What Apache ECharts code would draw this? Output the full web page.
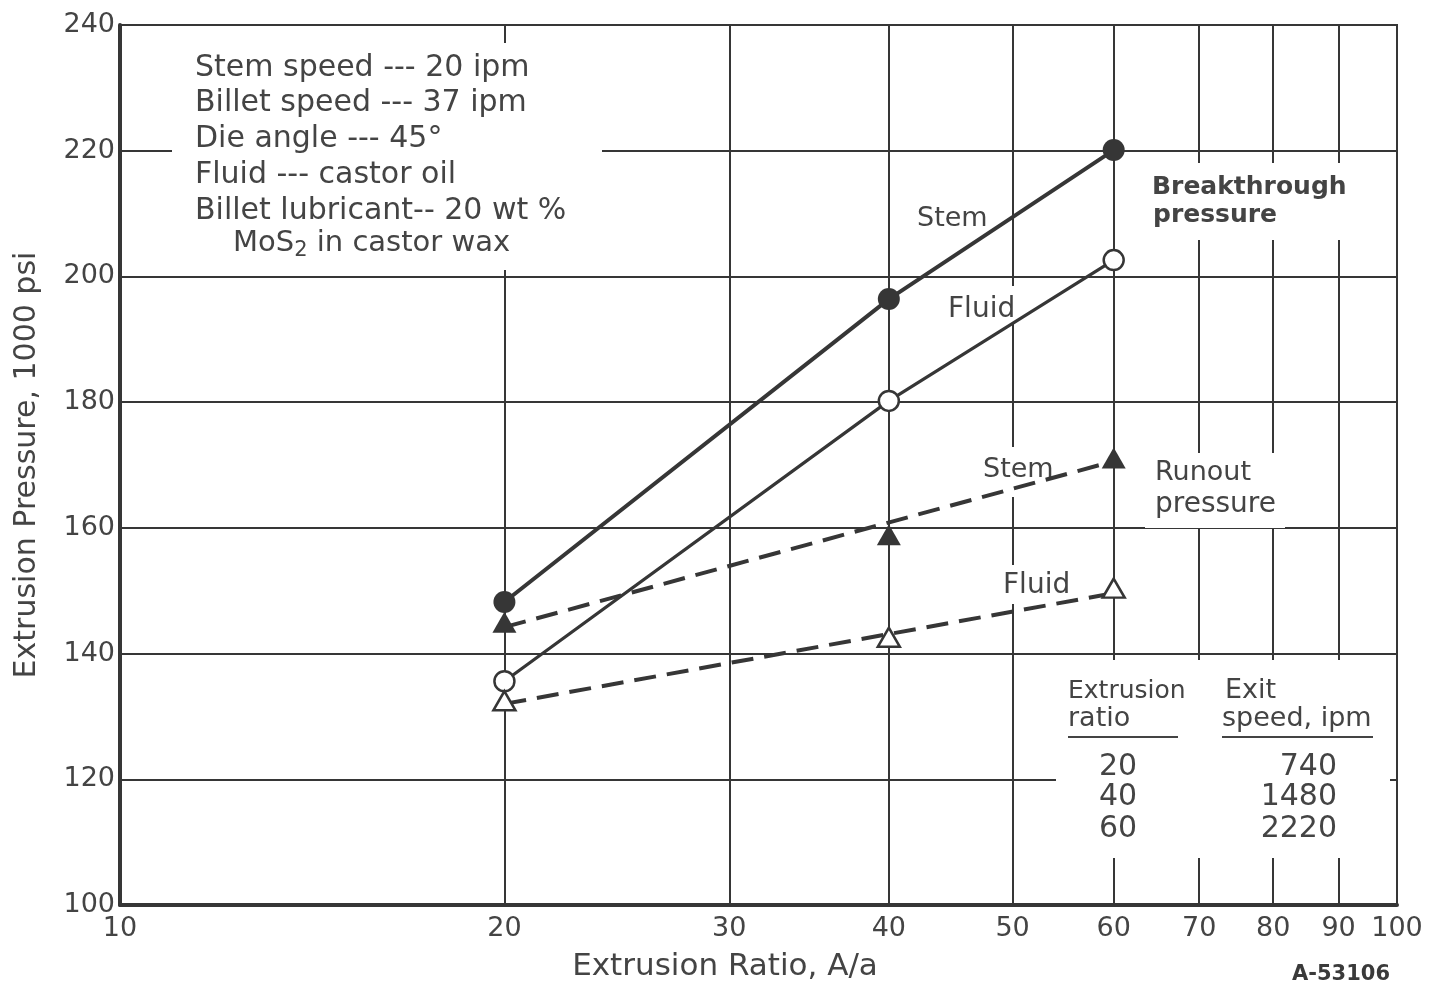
<!DOCTYPE html>
<html>
<head>
<meta charset="utf-8">
<title>Extrusion Pressure vs Extrusion Ratio</title>
<script src="https://cdn.jsdelivr.net/npm/echarts@6/dist/echarts.min.js"></script>
<style>
  html, body { margin: 0; padding: 0; background: #fff; }
  #chart { width: 1429px; height: 988px; }
</style>
</head>
<body>
<div id="chart"></div>
<script>
// Extrusion ratios where pressures were measured
const ratios = [20, 40, 60];
// Breakthrough pressure, 1000 psi
const breakthroughStem = [148.2, 196.4, 220.1];
const breakthroughFluid = [135.6, 180.2, 202.6];
// Runout pressure, 1000 psi
const runoutStem = [145.0, 158.9, 171.1];
const runoutFluid = [132.5, 142.6, 150.4];
// Straight runout trend lines (end points)
const fitRatios = [20, 60];
const runoutStemFit = [144.2, 170.6];
const runoutFluidFit = [132.0, 149.6];
// Axis ticks
const xTickValues = [10, 20, 30, 40, 50, 60, 70, 80, 90, 100];
const yMin = 100, yMax = 240, yStep = 20;
// Exit speed table
const tableRatios = ['20', '40', '60'];
const exitSpeeds = ['740', '1480', '2220'];
// Test conditions
const conditions = [
  'Stem speed --- 20 ipm',
  'Billet speed --- 37 ipm',
  'Die angle --- 45°',
  'Fluid --- castor oil',
  'Billet lubricant-- 20 wt %'
];

const INK = '#363636';
const TEXT = '#444';
const FONT = '"DejaVu Sans", sans-serif';
const lg = v => Math.log10(v);
const pts = (xs, ys) => xs.map((x, i) => [lg(x), ys[i]]);

const chart = echarts.init(document.getElementById('chart'), null, { renderer: 'canvas' });

function txt(text, x, y, size, extra) {
  return {
    type: 'text', z: 5,
    style: Object.assign({
      text: text, x: x, y: y, fill: TEXT,
      fontSize: size, fontFamily: FONT,
      textAlign: 'left', textVerticalAlign: 'middle'
    }, extra || {})
  };
}
function blank(x, y, w, h) {
  return { type: 'rect', z: 4, shape: { x: x, y: y, width: w, height: h }, style: { fill: '#fff' } };
}
function rule(x1, y1, x2, y2) {
  return { type: 'line', z: 5, shape: { x1: x1, y1: y1, x2: x2, y2: y2 }, style: { stroke: TEXT, lineWidth: 2 } };
}

const graphics = [
  // conditions block
  blank(172, 43, 430, 227),
  ...conditions.map((c, i) => txt(c, 195, [68, 103, 139, 175, 211][i], 30)),
  {
    type: 'text', z: 5,
    style: {
      text: 'MoS{s|2} in castor wax', x: 233, y: 243, fill: TEXT,
      fontSize: 29, fontFamily: FONT, textVerticalAlign: 'middle',
      rich: { s: { fontSize: 21, fontFamily: FONT, fill: TEXT, padding: [15, 0, 0, 0] } }
    }
  },
  // curve group labels
  blank(1143, 163, 205, 77),
  txt('Breakthrough', 1152, 187, 25, { fontWeight: 'bold' }),
  txt('pressure', 1153, 215, 25, { fontWeight: 'bold' }),
  blank(1145, 453, 140, 75),
  txt('Runout', 1155, 473, 27),
  txt('pressure', 1155, 505, 28),
  // curve labels
  txt('Stem', 917, 219, 27),
  blank(944, 286, 74, 38),
  txt('Fluid', 948, 310, 28),
  blank(978, 447, 80, 50),
  txt('Stem', 983, 470, 27),
  blank(998, 565, 74, 39),
  txt('Fluid', 1003, 586, 28),
  // exit speed table
  blank(1056, 660, 334, 198),
  txt('Extrusion', 1068, 691, 25),
  txt('ratio', 1068, 719, 27),
  rule(1068, 737, 1178, 737),
  txt('Exit', 1225, 691, 27),
  txt('speed, ipm', 1222, 719, 27),
  rule(1222, 737, 1373, 737),
  ...tableRatios.map((r, i) => txt(r, 1118, [767, 797, 829][i], 30, { textAlign: 'center' })),
  ...exitSpeeds.map((s, i) => txt(s, 1337, [767, 797, 829][i], 30, { textAlign: 'right' })),
  // drawing number
  txt('A-53106', 1390, 975, 21, { textAlign: 'right', fontWeight: 'bold', fill: '#3a3a3a' })
];

const option = {
  backgroundColor: '#fff',
  animation: false,
  grid: {
    left: 120, right: 32, top: 25, bottom: 83,
    show: true, borderColor: INK, borderWidth: 2, backgroundColor: 'transparent'
  },
  xAxis: {
    type: 'value', min: lg(10), max: lg(100),
    name: 'Extrusion Ratio, A/a', nameLocation: 'middle', nameGap: 46,
    nameTextStyle: { fontSize: 31, fontFamily: FONT, color: TEXT, padding: [0, 67, 0, 0] },
    axisLine: { show: true, lineStyle: { color: INK, width: 4 } },
    axisTick: { show: false, customValues: xTickValues.map(lg) },
    axisLabel: {
      customValues: xTickValues.map(lg), margin: 10,
      fontSize: 27, fontFamily: FONT, color: TEXT,
      formatter: v => String(Math.round(Math.pow(10, v)))
    },
    splitLine: { show: true, lineStyle: { color: INK, width: 2 } }
  },
  yAxis: {
    type: 'value', min: yMin, max: yMax, interval: yStep,
    name: 'Extrusion Pressure, 1000 psi', nameLocation: 'middle', nameGap: 78,
    nameTextStyle: { fontSize: 30, fontFamily: FONT, color: TEXT },
    axisLine: { show: true, lineStyle: { color: INK, width: 4 } },
    axisTick: { show: false },
    axisLabel: { margin: 5, fontSize: 27, fontFamily: FONT, color: TEXT },
    splitLine: { show: true, lineStyle: { color: INK, width: 2 } }
  },
  graphic: graphics,
  series: [
    {
      name: 'Breakthrough stem', type: 'line', z: 6, data: pts(ratios, breakthroughStem),
      showSymbol: false, lineStyle: { color: INK, width: 4 }, silent: true
    },
    {
      name: 'Breakthrough fluid', type: 'line', z: 6, data: pts(ratios, breakthroughFluid),
      showSymbol: false, lineStyle: { color: INK, width: 3.2 }, silent: true
    },
    {
      name: 'Runout stem trend', type: 'line', z: 6, data: pts(fitRatios, runoutStemFit),
      showSymbol: false, lineStyle: { color: INK, width: 4, type: [22, 11] }, silent: true
    },
    {
      name: 'Runout fluid trend', type: 'line', z: 6, data: pts(fitRatios, runoutFluidFit),
      showSymbol: false, lineStyle: { color: INK, width: 4, type: [22, 11] }, silent: true
    },
    {
      name: 'Breakthrough stem points', type: 'scatter', z: 8, data: pts(ratios, breakthroughStem),
      symbol: 'circle', symbolSize: 22, itemStyle: { color: INK, opacity: 1 }
    },
    {
      name: 'Breakthrough fluid points', type: 'scatter', z: 8, data: pts(ratios, breakthroughFluid),
      symbol: 'circle', symbolSize: 20,
      itemStyle: { color: '#fff', borderColor: INK, borderWidth: 2.5, opacity: 1 }
    },
    {
      name: 'Runout stem points', type: 'scatter', z: 8, data: pts(ratios, runoutStem),
      symbol: 'triangle', symbolSize: [24, 21], itemStyle: { color: INK, opacity: 1 }
    },
    {
      name: 'Runout fluid points', type: 'scatter', z: 8, data: pts(ratios, runoutFluid),
      symbol: 'triangle', symbolSize: [22, 19],
      itemStyle: { color: '#fff', borderColor: INK, borderWidth: 2.5, opacity: 1 }
    }
  ]
};

chart.setOption(option);
</script>
</body>
</html>
